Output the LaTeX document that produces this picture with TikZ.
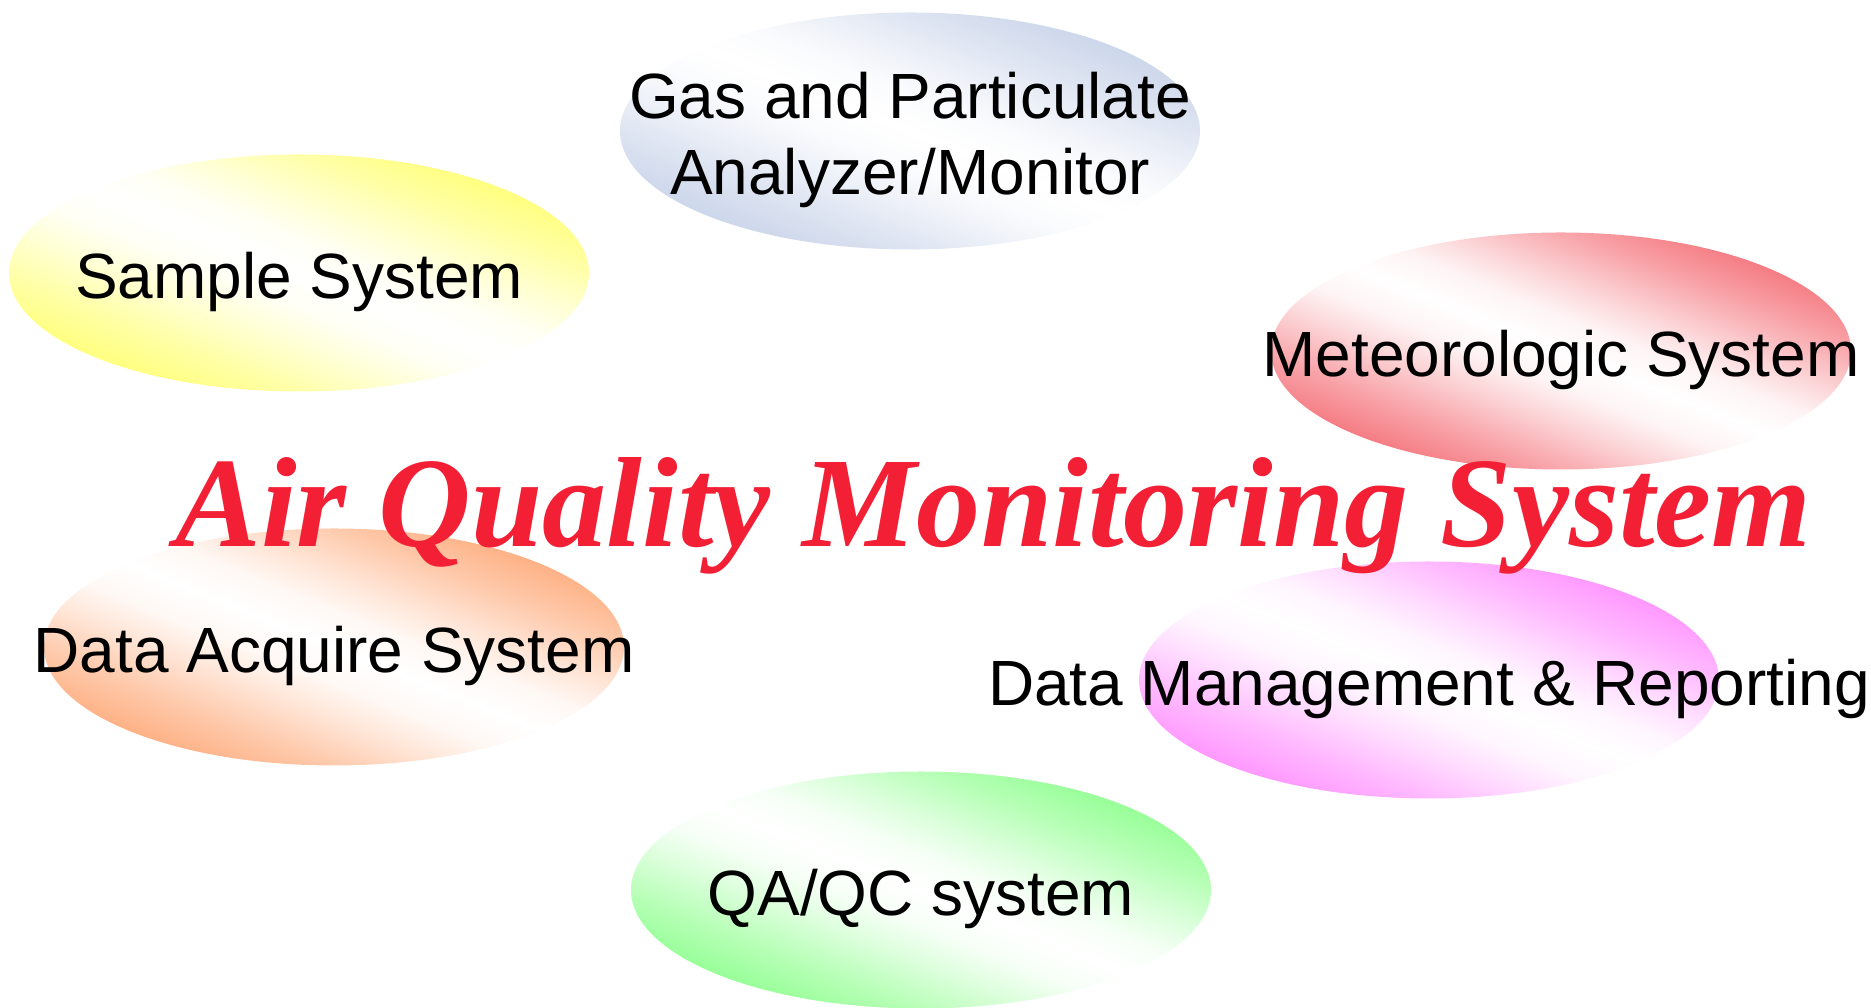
\documentclass[tikz,border=0pt]{standalone}
\usepackage{fontspec}
\setmainfont{Liberation Sans}
\newfontfamily\titlefont{Liberation Serif}
\usetikzlibrary{shapes.geometric}

\definecolor{gasblue}{RGB}{200,211,233}
\definecolor{sampleyellow}{RGB}{255,255,115}
\definecolor{meteored}{RGB}{244,112,120}
\definecolor{acqorange}{RGB}{254,170,122}
\definecolor{mgmtpink}{RGB}{255,142,255}
\definecolor{qagreen}{RGB}{142,255,142}
\definecolor{titlered}{RGB}{242,31,53}

% soft white band across the ellipse
\colorlet{blobc}{white}
\pgfdeclareverticalshading[blobc]{blobshade}{100bp}{color(0bp)=(blobc); color(25bp)=(blobc);
  color(33bp)=(blobc!65!white); color(40bp)=(blobc!30!white); color(45bp)=(blobc!8!white);
  color(50bp)=(white); color(55bp)=(blobc!8!white); color(60bp)=(blobc!30!white);
  color(67bp)=(blobc!65!white); color(75bp)=(blobc); color(100bp)=(blobc)}

\begin{document}
\begin{tikzpicture}[
  blob/.style={ellipse, minimum width=5.8cm, minimum height=2.37cm, inner sep=0pt,
    /utils/exec={\colorlet{blobc}{#1}}, shade, shading=blobshade, shading angle=-22},
  every label/.style={font=\fontsize{18.2}{21.5}\selectfont, align=center, inner sep=0pt, yshift=-0.9mm}]
\useasboundingbox (0,0) rectangle (18.71,10.08);

\node[blob=gasblue, label={center:Gas and Particulate\\Analyzer/Monitor}] (gas) at (9.10,8.77) {};
\node[blob=sampleyellow, label={center:Sample System}] (sample) at (2.99,7.35) {};
\node[blob=meteored, label={center:Meteorologic System}] (meteo) at (15.61,6.57) {};
\node[blob=acqorange, label={center:Data Acquire System}] (acquire) at (3.34,3.61) {};
\node[blob=mgmtpink, label={center:Data Management \& Reporting}] (manage) at (14.29,3.28) {};
\node[blob=qagreen, label={center:QA/QC system}] (qaqc) at (9.21,1.18) {};

\node[font=\titlefont\bfseries\itshape\fontsize{36.5}{40}\selectfont, text=titlered, anchor=base, inner sep=0pt] (title) at (9.935,4.615) {Air Quality Monitoring System};
\end{tikzpicture}
\end{document}
